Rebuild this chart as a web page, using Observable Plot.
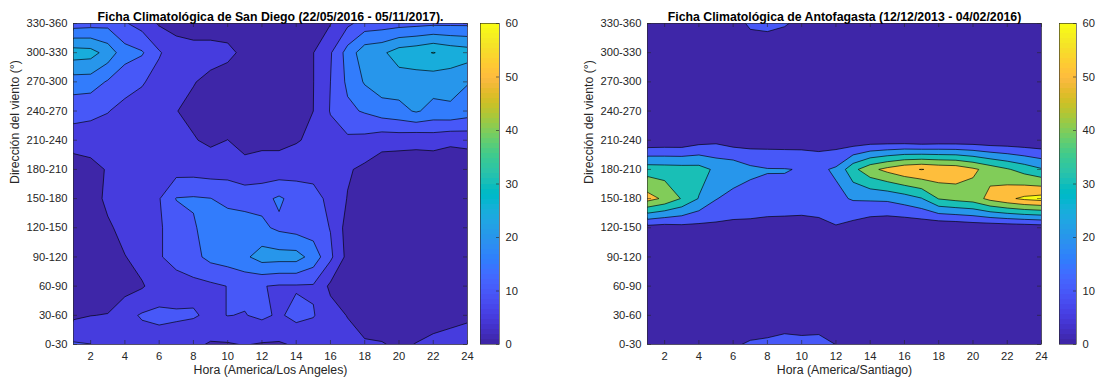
<!DOCTYPE html>
<html><head><meta charset="utf-8">
<script src="https://cdn.jsdelivr.net/npm/d3@7"></script>
<script src="https://cdn.jsdelivr.net/npm/@observablehq/plot@0.6"></script>
<style>
html,body{margin:0;padding:0;background:#fff;}
#fig{position:relative;width:1098px;height:383px;overflow:hidden;background:#fff;}
#fig svg{position:absolute;top:0;overflow:visible;}
</style></head><body><div id="fig"></div>
<script>
const FONT = '"Liberation Sans", Arial, Helvetica, sans-serif';

const hourTicks = [2, 4, 6, 8, 10, 12, 14, 16, 18, 20, 22, 24];
const directions = ["0-30", "30-60", "60-90", "90-120", "120-150", "150-180",
  "180-210", "210-240", "240-270", "270-300", "300-330", "330-360"];
const colorTicks = [0, 10, 20, 30, 40, 50, 60];
const sanDiegoLevels = [0, 5, 10, 15, 20, 25, 30];
const antofagastaLevels = [0, 10, 20, 30, 40, 50, 60];

// MATLAB parula (64)
const parula = ["#3e26a8","#402ab4","#422ec0","#4332cb","#4537d5","#463cde","#4741e5","#4747eb",
"#484df0","#4852f4","#4758f8","#465efb","#4563fd","#4269fe","#3e6fff","#3875fe",
"#327cfc","#2f81fa","#2e87f7","#2d8cf3","#2b91ef","#2796eb","#259be8","#23a0e5",
"#20a5e3","#1ca9df","#18addb","#12b1d6","#08b5d0","#01b8ca","#02bac4","#0bbcbd",
"#19bfb6","#24c1ae","#2cc4a7","#31c69f","#37c897","#3fca8e","#4acb84","#57cc7a",
"#64cd6f","#72cd64","#81cc59","#8fcb4e","#9dc943","#abc739","#b9c431","#c5c22a",
"#d1bf27","#dcbd29","#e6bb2d","#f0ba36","#f8ba3d","#febe3c","#fec338","#fec934",
"#fccf30","#fad62d","#f7dc2a","#f5e327","#f5e924","#f6ef20","#f7f51b","#f9fb15"];

// Rows: direction bins from 330-360 (top) down to 0-30 (bottom); columns: hours 1..24
const sanDiego = [
  [12.5, 13, 13.5, 10.5, 8, 4.5, 3.5, 3, 3, 3, 2.5, 2.5, 2.5, 3, 3.5, 4.8, 9, 12, 12.5, 13, 13.5, 14, 14, 14],
  [27.5, 27, 23, 17, 15.5, 10.5, 7, 6.5, 6.5, 6, 4, 3.5, 3.5, 4, 4.9, 9.5, 17, 23, 24, 27.5, 28.5, 30.2, 28.5, 27.5],
  [17.6, 17.5, 14.5, 12, 10.5, 8, 6, 5.2, 4, 3, 2.5, 2.5, 2.5, 3, 4.9, 10, 16, 20.5, 23, 22.5, 22.5, 22, 22, 20.3],
  [11.7, 11, 10.2, 8.5, 7.5, 6.5, 5.1, 4, 3, 2.5, 2, 2, 2, 2.5, 5, 10.3, 14, 15.5, 17.5, 18.5, 20.5, 18.5, 19, 17.5],
  [7.8, 8, 7.5, 7, 6.5, 6, 5.5, 5.3, 4.2, 5.05, 3.5, 4, 4, 4.6, 6, 8, 9, 8.5, 7, 7, 6.2, 7, 6, 6.5],
  [1.7, 3, 5.5, 6.5, 7, 7.5, 8, 8, 7.5, 8, 6.5, 6.8, 6.8, 8, 8, 7, 5.5, 4, 2, 1.5, 2.5, 1.5, 1.5, 1.5],
  [1.5, 2, 6.5, 7, 7.5, 9.7, 15.2, 15.5, 15.1, 13.5, 13, 13.5, 15.8, 13, 12, 8.5, 4.8, 1.5, 1.5, 1.5, 1.5, 1.5, 1.5, 1.5],
  [1.5, 2, 4, 7, 7.5, 9.5, 12, 14.5, 17, 18, 17.5, 16, 14, 13, 12.5, 9.8, 3, 1.5, 1.5, 1.5, 1.5, 1.5, 1.5, 1.5],
  [1.5, 2, 3, 4.8, 7, 9.5, 12, 13.5, 16.5, 17.5, 19, 22.3, 22, 22, 18, 11, 3.5, 1.5, 1.5, 1.5, 1.5, 1.5, 1.5, 1.5],
  [1.5, 1.5, 2, 3, 4.5, 7.5, 7.5, 8.5, 9, 10.1, 11.2, 10.2, 9.5, 9.5, 9.5, 4, 2, 2, 2, 2, 2, 2, 2, 2],
  [4, 4.9, 5.2, 8.5, 10.5, 11, 10.7, 10.5, 9, 10.1, 9.8, 11, 9.3, 11.5, 10.3, 7, 4.8, 1, 1.5, 1.5, 2, 3.3, 3.8, 4.3],
  [10.6, 10.1, 7.5, 7, 7.5, 8, 7.5, 6, 4.5, 4.6, 5.2, 4.6, 4.5, 5.5, 6.5, 7, 7, 6, 5.4, 4, 5.2, 6, 6.5, 7]
];

const antofagasta = [
  [2, 2, 2, 2, 3, 6, 11.5, 12.5, 10.8, 7.7, 4, 3, 2, 2, 2, 2, 2, 2, 2, 2, 2, 2, 2, 2],
  [1, 1, 1, 1, 1.5, 2.5, 4, 3.5, 3.5, 3, 2, 1.5, 1, 1, 1, 1, 1, 1, 1, 1, 1, 1, 1, 1],
  [1, 1, 1, 1, 1, 1, 1.5, 1.5, 1.5, 1.5, 1, 1, 1, 1, 1, 1, 1, 1, 1, 1, 1, 1, 1, 1],
  [1, 1, 1, 1.5, 2, 1.5, 1.5, 1.5, 1.5, 1.5, 1.5, 1.5, 1, 1.5, 1, 1, 1, 1, 1, 1, 1, 1, 1, 1],
  [1.4, 2, 2, 5.7, 7.5, 4.6, 4.8, 5.3, 5.1, 5.3, 4.9, 4.6, 2.8, 4, 3.8, 3.5, 2, 3, 3, 3, 2, 2, 1.5, 1],
  [35.5, 35, 34.5, 34, 28, 27.3, 22.3, 20.5, 20.4, 19.5, 18, 21.5, 37, 47, 53, 58, 60.3, 58, 57, 52, 46, 41, 36, 31],
  [54, 48, 39.3, 29.5, 20.5, 16.1, 15.8, 17, 17.5, 17.5, 17, 17.5, 21, 21.5, 22, 25, 29.5, 40.5, 43, 45, 53, 58, 62, 64],
  [6, 5, 6.5, 6.7, 7.4, 7.6, 7.4, 5.7, 5, 4.4, 6.2, 9.2, 6.3, 3, 1.7, 1.5, 1.6, 0.5, 1, 2.3, 2, 2.5, 3, 4],
  [1, 1, 1.5, 1.5, 2, 2, 2, 1.5, 1.5, 1, 1.5, 2, 1.5, 1, 1, 1, 1, 0.5, 0.5, 0.5, 0.5, 0.5, 1, 1],
  [1, 1, 1, 1, 1, 1, 1, 1, 1, 1, 1, 1, 1, 1, 1, 1, 1, 1, 1, 1, 1, 1, 1, 1],
  [1, 1, 1, 1, 1, 1.5, 1, 3.3, 4, 3.3, 4.2, 2, 1, 1, 1, 1, 1, 1, 1, 1, 1, 1, 1, 1],
  [2, 2, 2, 2, 3, 8.5, 11.5, 12, 13.5, 13, 13, 9.9, 5, 3, 2, 2, 2, 2, 2, 2, 2, 2, 2, 2]
];

const parulaAt = t => parula[Math.max(0, Math.min(63, Math.floor(t * 64)))];
const AX = "#262626";

function panel(rows, levels, title, xlabel) {
  const W = 480, H = 383, mL = 73, mR = 13, mT = 23, mB = 39;
  const pw = W - mL - mR, ph = H - mT - mB;
  const grid = rows.slice().reverse().flat();
  return Plot.plot({
    width: W, height: H, marginLeft: mL, marginRight: mR, marginTop: mT, marginBottom: mB,
    x: {domain: [1, 24]},
    y: {domain: [1, 12]},
    color: {type: "linear", domain: [0, 60], clamp: true, interpolate: parulaAt},
    style: {fontFamily: FONT, fontSize: "11.2px", color: AX, background: "transparent"},
    marks: [
      Plot.frame({fill: parula[0]}),
      Plot.contour(grid, {width: 24, height: 12, x1: 0.5, x2: 24.5, y1: 0.5, y2: 12.5,
        fill: Plot.identity, thresholds: levels, stroke: "#000", strokeWidth: 0.65, clip: true}),
      Plot.frame({stroke: AX, strokeWidth: 0.6}),
      Plot.tickX(hourTicks, {x: d => d, insetTop: ph - 4, stroke: AX, strokeWidth: 0.6}),
      Plot.tickX(hourTicks, {x: d => d, insetBottom: ph - 4, stroke: AX, strokeWidth: 0.6}),
      Plot.tickY(d3.range(1, 13), {y: d => d, insetRight: pw - 4, stroke: AX, strokeWidth: 0.6}),
      Plot.tickY(d3.range(1, 13), {y: d => d, insetLeft: pw - 4, stroke: AX, strokeWidth: 0.6}),
      Plot.axisX({ticks: hourTicks, tickSize: 0, tickPadding: 8, label: null}),
      Plot.axisY({ticks: d3.range(1, 13), tickFormat: d => directions[d - 1], tickSize: 0, tickPadding: 6, label: null}),
      Plot.text([xlabel], {frameAnchor: "bottom", dy: 29, text: d => d, fontSize: 12.3, fill: AX}),
      Plot.text(["Dirección del viento (°)"], {frameAnchor: "left", dx: -58, rotate: -90, text: d => d, fontSize: 12.3, fill: AX}),
      Plot.text([title], {frameAnchor: "top", dy: -11, text: d => d, fontWeight: "bold", fontSize: 12.3, fill: "#000"})
    ]
  });
}

function colorbar(barW, totalW) {
  return Plot.plot({
    width: totalW, height: 383, marginLeft: 0, marginRight: totalW - barW, marginTop: 23, marginBottom: 39,
    x: {domain: [0, 1], axis: null},
    y: {domain: [0, 60], axis: null},
    color: {type: "identity"},
    style: {fontFamily: FONT, fontSize: "11.2px", color: AX, background: "transparent"},
    marks: [
      Plot.rect(parula, {x1: 0, x2: 1, y1: (d, i) => i * 60 / 64, y2: (d, i) => (i + 1) * 60 / 64, fill: d => d, shapeRendering: "crispEdges"}),
      Plot.frame({stroke: AX, strokeWidth: 0.6}),
      Plot.tickY(colorTicks, {y: d => d, insetLeft: barW - 3, stroke: AX, strokeWidth: 0.6}),
      Plot.axisY({anchor: "right", ticks: colorTicks, tickSize: 0, tickPadding: 6, label: null})
    ]
  });
}

const fig = document.getElementById("fig");
function place(el, left) { el.style.left = left + "px"; fig.appendChild(el); }
place(panel(sanDiego, sanDiegoLevels, "Ficha Climatológica de San Diego (22/05/2016 - 05/11/2017).", "Hora (America/Los Angeles)"), 0);
place(colorbar(19, 60), 480);
place(panel(antofagasta, antofagastaLevels, "Ficha Climatológica de Antofagasta (12/12/2013 - 04/02/2016)", "Hora (America/Santiago)"), 574);
place(colorbar(17, 39), 1059);
</script></body></html>
